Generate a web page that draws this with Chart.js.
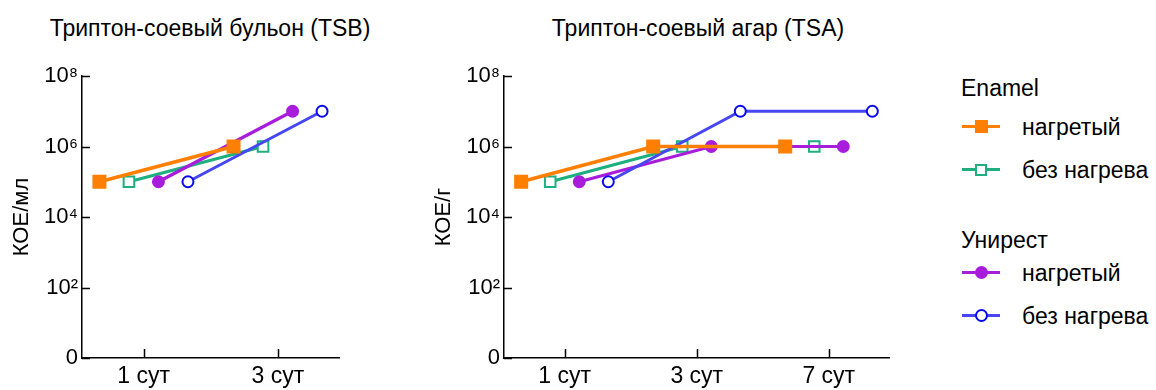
<!DOCTYPE html>
<html>
<head>
<meta charset="utf-8">
<script src="https://cdn.jsdelivr.net/npm/chart.js@4/dist/chart.umd.min.js"></script>
<style>
    body { margin: 0; background: #fff; font-family: "Liberation Sans", Arial, sans-serif; color: #000; }
    #wrap { position: relative; width: 1156px; height: 390px; overflow: hidden; }
    .box { position: absolute; top: 0; }
    .title { position: absolute; top: 15px; font-size: 23px; line-height: 26px; white-space: nowrap; transform: translateX(-50%); }
    .lg-head { position: absolute; left: 961px; font-size: 23px; line-height: 26px; white-space: nowrap; }
    .lg-item { position: absolute; left: 962px; height: 24px; }
    .lg-line { position: absolute; left: 0; top: 10px; width: 38px; height: 3px; }
    .lg-mark { position: absolute; box-sizing: border-box; }
    .lg-text { position: absolute; left: 60px; top: -1px; font-size: 23px; white-space: nowrap; line-height: 26px; }
</style>
</head>
<body>
<div id="wrap">
    <div class="title" style="left:210px">Триптон-соевый бульон (TSB)</div>
    <div class="title" style="left:698px">Триптон-соевый агар (TSA)</div>
    <div class="box" style="left:0px"><canvas id="tsb" width="350" height="390"></canvas></div>
    <div class="box" style="left:422px"><canvas id="tsa" width="478" height="390"></canvas></div>
    <div id="legend"></div>
</div>
<script>
// x categories
const daysTSB = ['1 сут', '3 сут'];
const daysTSA = ['1 сут', '3 сут', '7 сут'];

// y ticks (0 stands for 10^0)
const yTicks = [1, 1e2, 1e4, 1e6, 1e8];
const yTickLabels = ['0', '10²', '10⁴', '10⁶', '10⁸'];

// КОЕ/мл, бульон
const tsbEnamelHeated    = [1e5, 1e6];
const tsbEnamelUnheated  = [1e5, 1e6];
const tsbUnirestHeated   = [1e5, 1e7];
const tsbUnirestUnheated = [1e5, 1e7];

// КОЕ/г, агар
const tsaEnamelHeated    = [1e5, 1e6, 1e6];
const tsaEnamelUnheated  = [1e5, 1e6, 1e6];
const tsaUnirestHeated   = [1e5, 1e6, 1e6];
const tsaUnirestUnheated = [1e5, 1e7, 1e7];

const groupNames = ['Enamel', 'Унирест'];
const seriesLabels = ['нагретый', 'без нагрева', 'нагретый', 'без нагрева'];

// look of each series
const styles = [
    { line: '#ff7f00', mark: '#ff7f00', fill: '#ff7f00', shape: 'rect',   radius: 8.5, width: 3.5, order: 0 },
    { line: '#1daf7e', mark: '#1daf7e', fill: '#ffffff', shape: 'rect',   radius: 7.5, width: 3.2, order: 3 },
    { line: '#a81ddb', mark: '#a81ddb', fill: '#a81ddb', shape: 'circle', radius: 5.5, width: 3.2, order: 2 },
    { line: '#4646f2', mark: '#0a0aee', fill: '#ffffff', shape: 'circle', radius: 5.5, width: 3,   order: 1 },
];
const dodge = [-0.33, -0.11, 0.11, 0.33];

const inwardTicks = {
    id: 'inwardTicks',
    beforeDatasetsDraw(chart) {
        const { ctx, chartArea, scales } = chart;
        ctx.save();
        ctx.strokeStyle = '#000';
        ctx.lineWidth = 1.5;
        ctx.beginPath();
        scales.x.ticks.forEach(t => {
            const px = Math.round(scales.x.getPixelForValue(t.value)) + 0.5;
            ctx.moveTo(px, chartArea.bottom);
            ctx.lineTo(px, chartArea.bottom - 9);
        });
        scales.y.ticks.forEach(t => {
            const py = Math.round(scales.y.getPixelForValue(t.value)) + 0.5;
            ctx.moveTo(chartArea.left, py);
            ctx.lineTo(chartArea.left + 8, py);
        });
        ctx.stroke();
        ctx.restore();
    }
};

function makeSets(seriesList) {
    return seriesList.map((values, s) => {
        const st = styles[s];
        return {
            label: seriesLabels[s],
            data: values.map((v, i) => ({ x: i + dodge[s], y: v })),
            borderColor: st.line,
            borderWidth: st.width,
            pointStyle: st.shape,
            pointRadius: st.radius,
            pointHoverRadius: st.radius,
            pointBackgroundColor: st.fill,
            pointBorderColor: st.mark,
            pointBorderWidth: 2,
            tension: 0,
            fill: false,
            order: st.order,
        };
    });
}

function chart(element, days, seriesList, yTitle, padRight) {
    const family = '"Liberation Sans", Arial, sans-serif';
    const cfg = {
        type: 'line',
        data: { datasets: makeSets(seriesList) },
        options: {
            responsive: false,
            animation: false,
            layout: { padding: { top: 76, right: padRight, left: 0, bottom: 0 } },
            plugins: { legend: { display: false }, tooltip: { enabled: false } },
            scales: {
                x: {
                    type: 'linear',
                    min: -0.46,
                    max: days.length - 0.54,
                    grid: { display: false, drawTicks: false },
                    border: { display: true, color: '#000', width: 1.5 },
                    afterBuildTicks: scale => { scale.ticks = days.map((d, i) => ({ value: i })); },
                    afterFit: scale => { scale.height = 32; },
                    ticks: {
                        color: '#000', font: { family, size: 23 }, padding: 5, autoSkip: false, maxRotation: 0,
                        callback: value => days[value],
                    },
                },
                y: {
                    type: 'logarithmic',
                    min: 1,
                    max: 1e8,
                    grid: { display: false, drawTicks: false },
                    border: { display: true, color: '#000', width: 1.5 },
                    afterBuildTicks: scale => { scale.ticks = yTicks.map(v => ({ value: v })); },
                    afterFit: scale => { scale.width = 82; },
                    ticks: {
                        color: '#000', font: { family, size: 22 }, padding: 4, autoSkip: false,
                        callback: value => yTickLabels[yTicks.indexOf(value)],
                    },
                    title: {
                        display: true, text: yTitle, color: '#000',
                        font: { family, size: 22 }, padding: { top: 9, bottom: 0 },
                    },
                },
            },
        },
        plugins: [inwardTicks],
    };
    return new Chart(element, cfg);
}

chart(document.getElementById('tsb'), daysTSB,
    [tsbEnamelHeated, tsbEnamelUnheated, tsbUnirestHeated, tsbUnirestUnheated], 'КОЕ/мл', 8);
chart(document.getElementById('tsa'), daysTSA,
    [tsaEnamelHeated, tsaEnamelUnheated, tsaUnirestHeated, tsaUnirestUnheated], 'КОЕ/г', 10);

// legend: two groups of two series
const legend = document.getElementById('legend');
const headTops = [75, 227];
const itemTops = [[115, 158], [261, 304]];
groupNames.forEach((name, g) => {
    const head = document.createElement('div');
    head.className = 'lg-head';
    head.style.top = headTops[g] + 'px';
    head.textContent = name;
    legend.appendChild(head);
    [0, 1].forEach(k => {
        const s = g * 2 + k;
        const st = styles[s];
        const item = document.createElement('div');
        item.className = 'lg-item';
        item.style.top = itemTops[g][k] + 'px';
        const line = document.createElement('div');
        line.className = 'lg-line';
        line.style.background = st.line;
        const mark = document.createElement('div');
        mark.className = 'lg-mark';
        const size = st.shape === 'rect' ? Math.round(st.radius * Math.SQRT2) + 1 : st.radius * 2 + 2;
        mark.style.width = size + 'px';
        mark.style.height = size + 'px';
        mark.style.left = (19 - size / 2) + 'px';
        mark.style.top = (11.5 - size / 2) + 'px';
        mark.style.background = st.fill;
        mark.style.border = '2px solid ' + st.mark;
        if (st.shape === 'circle') mark.style.borderRadius = '50%';
        const text = document.createElement('div');
        text.className = 'lg-text';
        text.textContent = seriesLabels[s];
        item.appendChild(line);
        item.appendChild(mark);
        item.appendChild(text);
        legend.appendChild(item);
    });
});
</script>
</body>
</html>
